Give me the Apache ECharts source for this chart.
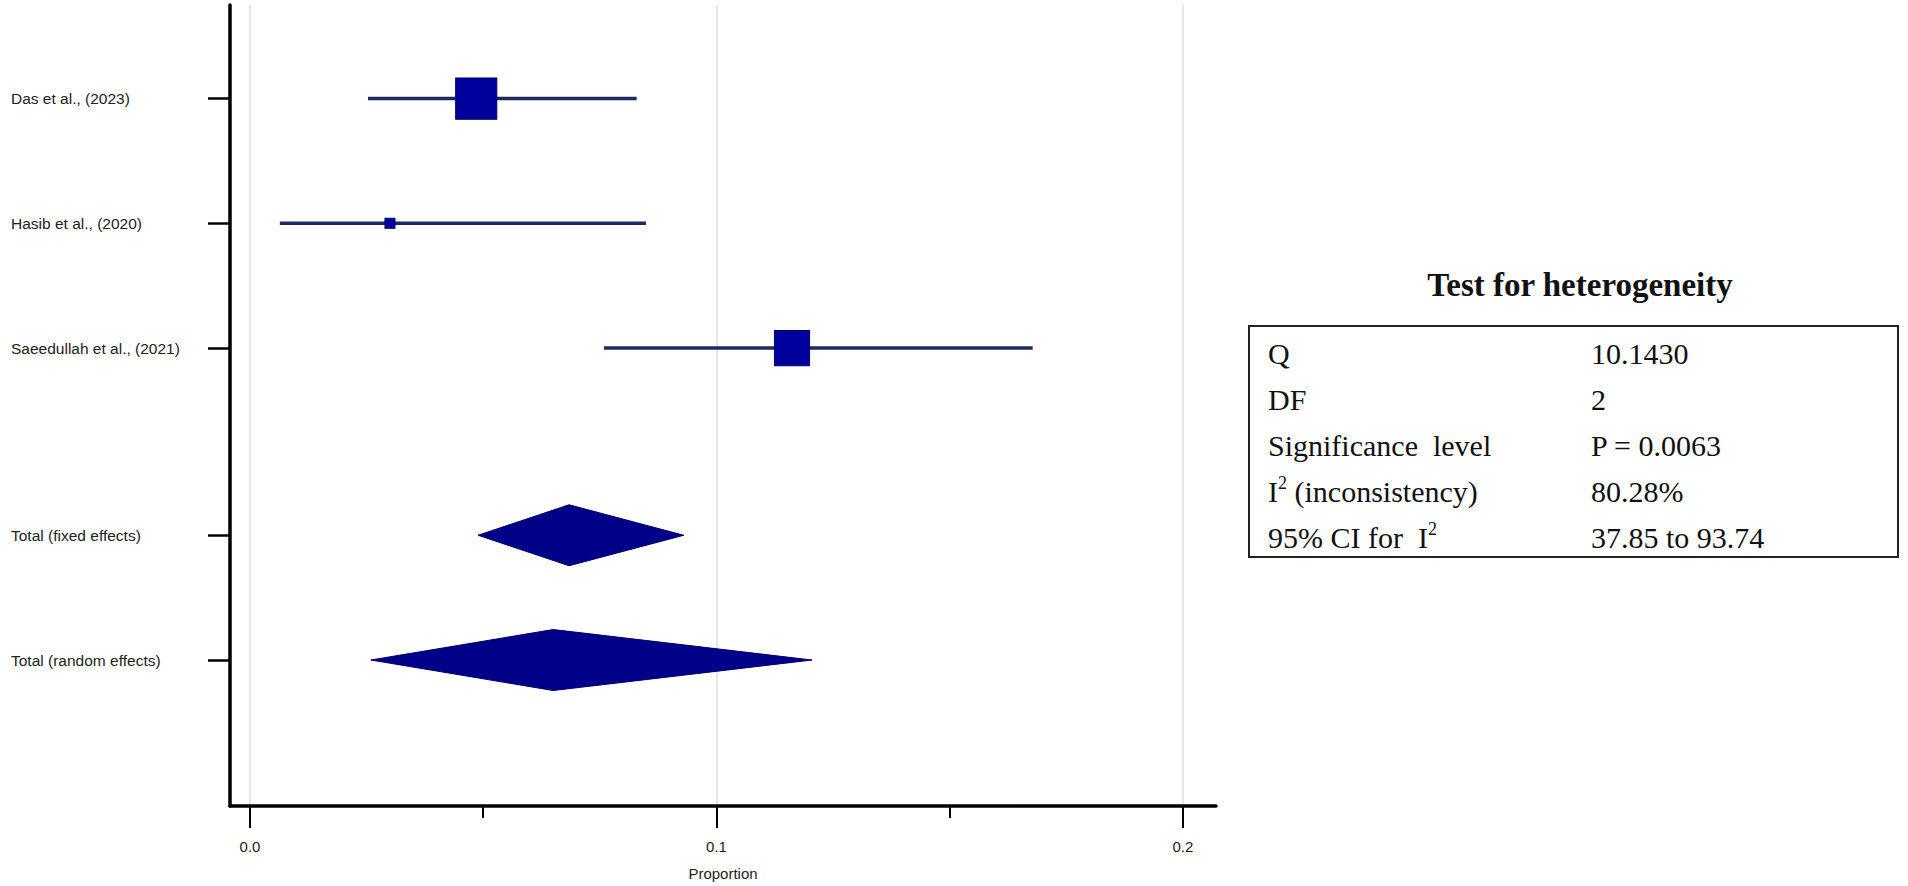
<!DOCTYPE html>
<html>
<head>
<meta charset="utf-8">
<title>Forest plot - proportion</title>
<script src="https://cdn.jsdelivr.net/npm/echarts@6/dist/echarts.min.js"></script>
<style>
  html, body { margin: 0; padding: 0; background: #fff; }
  #main { width: 1908px; height: 886px; }
</style>
</head>
<body>
<div id="main"></div>
<script>
// studies
var studies = ['Das et al., (2023)', 'Hasib et al., (2020)', 'Saeedullah et al., (2021)'];
var studyEst = [0.0485, 0.0300, 0.1162];
var studyLow = [0.0253, 0.0064, 0.0759];
var studyHigh = [0.0829, 0.0849, 0.1678];
var studyWeight = [55.9, 3.3, 40.8]; // % weight, square area

// pooled estimates
var pooled = ['Total (fixed effects)', 'Total (random effects)'];
var pooledEst = [0.0684, 0.0650];
var pooledLow = [0.0489, 0.0259];
var pooledHigh = [0.0930, 0.1205];

// row positions on the y axis (studies first, then totals)
var studyRows = [1, 2, 3];
var pooledRows = [4.5, 5.5];

// x axis ticks
var xMajor = [0, 0.1, 0.2];
var xMinor = [0.05, 0.15];

// heterogeneity table
var statLabels = ['Q', 'DF', 'Significance  level', 'I² (inconsistency)', '95% CI for  I²'];
var statValues = ['10.1430', '2', 'P = 0.0063', '80.28%', '37.85 to 93.74'];

var rowPos = studyRows.concat(pooledRows);
var rowLabels = studies.concat(pooled);

var ciData = [];
for (var i = 0; i < studies.length; i++) {
    ciData.push([studyLow[i], studyHigh[i], studyRows[i]]);
}
var pointData = [];
for (var i = 0; i < studies.length; i++) {
    pointData.push([studyEst[i], studyRows[i], studyWeight[i]]);
}
var diamondData = [];
for (var i = 0; i < pooled.length; i++) {
    diamondData.push([pooledLow[i], pooledEst[i], pooledHigh[i], pooledRows[i]]);
}

var sansFont = "'Liberation Sans', Arial, sans-serif";
var serifFont = "'Liberation Serif', 'Times New Roman', serif";

// table graphics
var graphics = [];
graphics.push({
    type: 'text',
    x: 1580, y: 285,
    style: {
        text: 'Test for heterogeneity',
        fontFamily: serifFont, fontSize: 33, fontWeight: 'bold',
        fill: '#111',
        align: 'center', verticalAlign: 'middle',
        textAlign: 'center', textVerticalAlign: 'middle'
    }
});
graphics.push({
    type: 'rect',
    shape: { x: 1249, y: 326, width: 649, height: 231 },
    style: { fill: 'none', stroke: '#222', lineWidth: 2 }
});
for (var k = 0; k < statLabels.length; k++) {
    var yy = 353 + k * 46;
    graphics.push({
        type: 'text',
        x: 1268, y: yy,
        style: {
            text: statLabels[k].replace('²', '{sup|2}'),
            fontFamily: serifFont, fontSize: 30, lineHeight: 34,
            fill: '#111',
            align: 'left', verticalAlign: 'middle',
            textAlign: 'left', textVerticalAlign: 'middle',
            rich: {
                sup: { fontFamily: serifFont, fontSize: 18, lineHeight: 18, verticalAlign: 'top', fill: '#111' }
            }
        }
    });
    graphics.push({
        type: 'text',
        x: 1591, y: yy,
        style: {
            text: statValues[k],
            fontFamily: serifFont, fontSize: 30,
            fill: '#111',
            align: 'left', verticalAlign: 'middle',
            textAlign: 'left', textVerticalAlign: 'middle'
        }
    });
}

var myChart = echarts.init(document.getElementById('main'), null, { renderer: 'svg' });

var option = {
    backgroundColor: '#fff',
    animation: false,
    grid: { left: 230, right: 692, top: 5, bottom: 80, containLabel: false },
    xAxis: [{
        type: 'value',
        min: -0.00429,
        max: 0.2071,
        position: 'bottom',
        axisLine: { show: true, onZero: false, lineStyle: { color: '#000', width: 3.5 } },
        axisTick: { show: true, customValues: xMajor, length: 22, lineStyle: { color: '#000', width: 2 } },
        axisLabel: {
            customValues: xMajor,
            formatter: function (v) { return v.toFixed(1); },
            margin: 33, fontSize: 15, color: '#222', fontFamily: sansFont
        },
        splitLine: { show: true, lineStyle: { color: '#dedede', width: 1.5 } },
        name: 'Proportion',
        nameLocation: 'middle',
        nameGap: 60,
        nameTextStyle: { fontSize: 15, color: '#222', fontFamily: sansFont }
    }, {
        type: 'value',
        min: -0.00429,
        max: 0.2071,
        position: 'bottom',
        axisLine: { show: false },
        axisTick: { show: true, customValues: xMinor, length: 12, lineStyle: { color: '#000', width: 2 } },
        axisLabel: { show: false },
        splitLine: { show: false }
    }],
    yAxis: {
        type: 'value',
        inverse: true,
        min: 0.25,
        max: 6.67,
        axisLine: { show: true, onZero: false, lineStyle: { color: '#000', width: 3.5 } },
        axisTick: { show: true, customValues: rowPos, length: 22, lineStyle: { color: '#000', width: 2.5 } },
        axisLabel: {
            customValues: rowPos,
            formatter: function (v) {
                var idx = rowPos.indexOf(v);
                return idx >= 0 ? rowLabels[idx] : '';
            },
            align: 'left',
            margin: 219,
            fontSize: 15.5, color: '#222', fontFamily: sansFont
        },
        splitLine: { show: false }
    },
    series: [
        {
            name: 'CI',
            type: 'custom',
            renderItem: function (params, api) {
                var p1 = api.coord([api.value(0), api.value(2)]);
                var p2 = api.coord([api.value(1), api.value(2)]);
                return {
                    type: 'line',
                    shape: { x1: p1[0], y1: p1[1], x2: p2[0], y2: p2[1] },
                    style: { stroke: '#1b2b5f', lineWidth: 3.5 }
                };
            },
            encode: { x: [0, 1], y: 2 },
            data: ciData,
            z: 2
        },
        {
            name: 'Study',
            type: 'scatter',
            symbol: 'rect',
            symbolSize: function (val) { return Math.sqrt(val[2]) * 5.5; },
            itemStyle: { color: '#00009c', borderColor: '#00006e', borderWidth: 1, opacity: 1 },
            data: pointData,
            z: 3
        },
        {
            name: 'Pooled',
            type: 'custom',
            renderItem: function (params, api) {
                var lo = api.coord([api.value(0), api.value(3)]);
                var mid = api.coord([api.value(1), api.value(3)]);
                var hi = api.coord([api.value(2), api.value(3)]);
                return {
                    type: 'polygon',
                    shape: { points: [lo, [mid[0], mid[1] - 30.5], hi, [mid[0], mid[1] + 30.5]] },
                    style: { fill: '#000088', stroke: '#000070', lineWidth: 1 }
                };
            },
            encode: { x: [0, 1, 2], y: 3 },
            data: diamondData,
            z: 3
        }
    ],
    graphic: graphics
};

myChart.setOption(option);
</script>
</body>
</html>
